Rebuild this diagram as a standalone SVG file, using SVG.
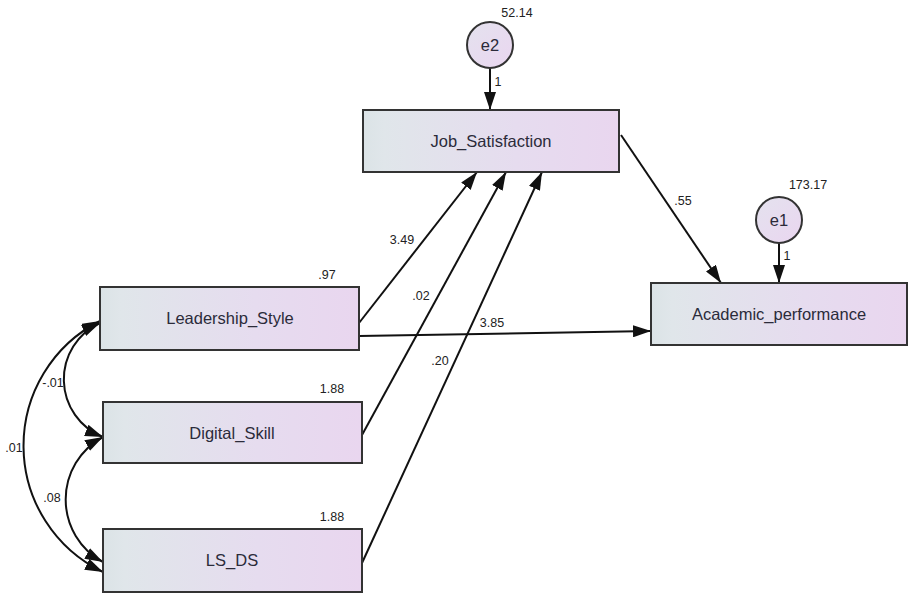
<svg xmlns="http://www.w3.org/2000/svg" width="910" height="594" viewBox="0 0 910 594">
  <defs>
    <linearGradient id="boxFill" x1="0" y1="0" x2="1" y2="0">
      <stop offset="0" stop-color="#dbe3e6"/>
      <stop offset="0.08" stop-color="#e0e6ea"/>
      <stop offset="0.6" stop-color="#e6dcef"/>
      <stop offset="1" stop-color="#e9d6ef"/>
    </linearGradient>
    <linearGradient id="errFill" x1="0" y1="0" x2="1" y2="1">
      <stop offset="0" stop-color="#e4e2ee"/>
      <stop offset="1" stop-color="#ead6f0"/>
    </linearGradient>
    <marker id="head" viewBox="0 0 18 12" refX="18" refY="6" markerWidth="18" markerHeight="12" markerUnits="userSpaceOnUse" orient="auto-start-reverse">
      <path d="M0,0 L18,6 L0,12 z" fill="#111"/>
    </marker>
    <style>
      .box { fill: url(#boxFill); stroke: #333; stroke-width: 2; }
      .err { fill: url(#errFill); stroke: #333; stroke-width: 2; }
      .lbl { font-family: "Liberation Sans", Arial, sans-serif; font-size: 16.5px; fill: #2b2b3a; text-anchor: middle; }
      .elbl { font-family: "Liberation Sans", Arial, sans-serif; font-size: 16.5px; fill: #2b2b3a; text-anchor: middle; }
      .num { font-family: "Liberation Sans", Arial, sans-serif; font-size: 12.5px; fill: #222; text-anchor: middle; }
      .path { fill: none; stroke: #111; stroke-width: 2; marker-end: url(#head); }
      .cov { fill: none; stroke: #111; stroke-width: 2; marker-start: url(#head); marker-end: url(#head); }
    </style>
  </defs>

  <!-- regression paths and covariances -->
  <g id="connectors">
    <line class="path" x1="490" y1="68" x2="490" y2="110"/>
    <line class="path" x1="779" y1="243" x2="779" y2="283"/>
    <line class="path" x1="621" y1="135" x2="721" y2="283"/>
    <line class="path" x1="359" y1="336" x2="651" y2="331"/>
    <line class="path" x1="359" y1="323" x2="477" y2="172"/>
    <line class="path" x1="362" y1="435" x2="506" y2="172"/>
    <line class="path" x1="362" y1="563" x2="542" y2="172"/>
    <path class="cov" d="M100,323 A62 62 0 0 0 103,437"/>
    <path class="cov" d="M103,437 A71 71 0 0 0 103,562"/>
    <path class="cov" d="M100,321 A140 140 0 0 0 103,572"/>
  </g>

  <!-- path coefficients and variances -->
  <g id="estimates">
    <text class="num" x="517" y="17">52.14</text>
    <text class="num" x="498" y="86">1</text>
    <text class="num" x="808" y="189">173.17</text>
    <text class="num" x="787" y="260">1</text>
    <text class="num" x="683" y="205">.55</text>
    <text class="num" x="402" y="244">3.49</text>
    <text class="num" x="421" y="300">.02</text>
    <text class="num" x="492" y="327">3.85</text>
    <text class="num" x="440" y="365">.20</text>
    <text class="num" x="327" y="279">.97</text>
    <text class="num" x="332" y="393">1.88</text>
    <text class="num" x="332" y="521">1.88</text>
    <text class="num" x="53" y="387">-.01</text>
    <text class="num" x="14" y="452">.01</text>
    <text class="num" x="52" y="502">.08</text>
  </g>

  <g id="e2">
    <circle class="err" cx="490" cy="45" r="23"/>
    <text class="elbl" x="490" y="51">e2</text>
  </g>
  <g id="e1">
    <circle class="err" cx="779" cy="220" r="23"/>
    <text class="elbl" x="779" y="226">e1</text>
  </g>
  <g id="Job_Satisfaction">
    <rect class="box" x="363" y="110" width="256" height="62"/>
    <text class="lbl" x="491" y="147">Job_Satisfaction</text>
  </g>
  <g id="Academic_performance">
    <rect class="box" x="651" y="283" width="256" height="62"/>
    <text class="lbl" x="779" y="320">Academic_performance</text>
  </g>
  <g id="Leadership_Style">
    <rect class="box" x="100" y="287" width="259" height="63"/>
    <text class="lbl" x="230" y="324">Leadership_Style</text>
  </g>
  <g id="Digital_Skill">
    <rect class="box" x="103" y="402" width="259" height="61"/>
    <text class="lbl" x="232" y="439">Digital_Skill</text>
  </g>
  <g id="LS_DS">
    <rect class="box" x="103" y="529" width="259" height="63"/>
    <text class="lbl" x="232" y="566">LS_DS</text>
  </g>
</svg>
